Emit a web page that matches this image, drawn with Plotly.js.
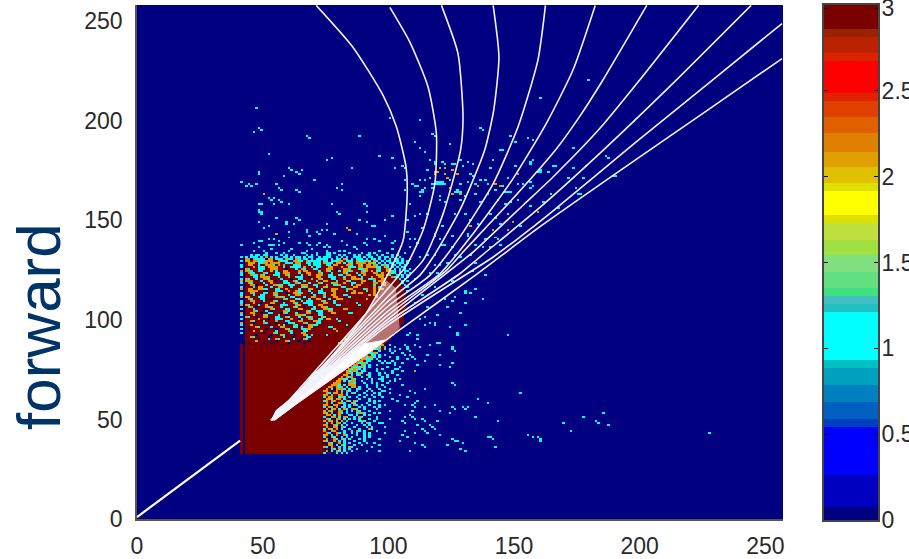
<!DOCTYPE html>
<html><head><meta charset="utf-8">
<script src="https://cdn.plot.ly/plotly-3.0.1.min.js"></script>
<style>html,body{margin:0;padding:0;background:#fff;overflow:hidden}</style>
</head><body><div id="chart" style="width:909px;height:559px"></div>
<script>
// ---------- tick labels ----------
const mainTicks=[0,50,100,150,200,250];
const barTicks=[0,0.5,1,1.5,2,2.5,2.98];
const barTickText=['0','0.5','1','1.5','2','2.5','3'];

// ---------- colour bands (bottom to top) ----------
const bandEdges=[0,.076,.263,.543,.59,.689,.788,.887,.934,1.214,1.261,1.307,1.354,1.447,1.541,1.634,1.728,1.774,1.914,1.961,2.054,2.142,2.253,2.346,2.44,2.486,2.673,2.72,2.813,2.86,3];
const bandColors=['#000080','#0000c0','#0000ff','#0040c0','#0060c0','#0080c0','#00a0c0','#00c0c0','#00ffff','#20c0c0','#40c0c0','#40e080','#60e080','#80e080','#a0e040','#c0e040','#e0e000','#ffff00','#e0e000','#e0c000','#e0a000','#e08000','#e06000','#e04000','#e02200','#ff0000','#dd2200','#bb2200','#992200','#7a0000'];

// ---------- cell values ----------
const valueCyan=1, valueOrange=2.1, valueMaroon=3;

// solid maroon block: [xStart,xEnd,yStart,yEnd]
const solidBlock=[43,73,33,87];
const leftStrip=[41,41,33,87];
// maroon under the white fan: [y,xStart,xEnd]
const fanRuns=[[88,82,98],[89,82,99],[90,83,100],[91,83,100],[92,84,101],[93,84,102],[94,85,103],[95,85,104],[96,86,104],[97,87,104],[98,87,105],[99,88,105],[100,89,105],[101,89,105],[102,90,105],[103,91,105],[104,92,105],[105,92,106],[106,93,106],[107,93,106],[108,94,106],[109,94,106],[110,95,106],[111,96,106],[112,97,106],[113,97,106],[114,98,105],[115,98,105],[116,99,105],[117,99,104],[118,100,104],[119,100,104],[120,100,103]];

// speckled region above the block: first row y=133, going down; first char x=41
const upperRows=[
"..........c...c..c......cc....c...cc.c.....c....c..c.c....c......c",
"....c.cc.cc.....c.c..c....c.c.c...cc...c.c...c.c..cc..c.c...c.c...",
"c.c.ccc.c.o.c.c..cc.c.cc.c.cc..c.ccc..c.c.c..ccc.c.cc..c.cc.c..c..",
"..oo.occcc.oo.ccc.occ.oc.cc.c.ccccc.c.cc.oc.c.ccc.c.cc.c.c.c.cc.c..c",
"c.oo#oocccooo##occc#.oocc#occccc#cc#cccoo#ccc#occcoc#oc.c.cc.cc.c.c",
"..#ooo#ccoo#oooo##ccc#oo##cc#ccc#occc#oo#c#oc#oooo#ooc#c.c.cc.c.c.c",
"c.#oo##c##oooc#o#o###ccc###c#ccc##cc#oo###ooc##oc#o##oc#coc.cc.c.c",
"c.###o#ccc#oooo##c##cccc#o##c#cc###oo###o##ccc#oo#oo#occ#oc.c.c.cc.",
"..oc###ccc##ooo###.###c#oc###cc###ooo#.##ooc###c#oo###oc##oc#c.c.c.c",
"o.ooc##cc###o#c##oo####o#oo####c##oc###c#ooc####ooo#o##o##oocc.c.cc",
"c.#occ###oc###cc#ooo###c##oo###oc###c####oc###c#oo###oo#o##occ.c.c.c",
"c.##occ#ocm##ccc##oc####c##o##ooo##cc#####oo###c#o####ooo#oc#.c.c.c",
"..###cc#oooo###c###o##ccc##.##oo###ccc###.##oo##c###o##oo###occ.c.c",
"c.oc##c##ooc####c###.##cc###o##oc###cc###o##oo##c###oo##oc##c#oc.c.",
"o.ooo###c##oo#.##cc##oc##c####c##oo###c###oc####oo###c#oo##oocc.c.c",
"c.#ocm###c##o####ccc##oc###c###oc###cc###o######o####c##oo##occ.c..",
"..##oo.###c##oocc##ccc##ooo##cc###o##ccc####c#oo#####c##ooo#c.cc.c.",
"c.###c#oo###c##oo###c###oco###c##oc#####cc###oo######o#c##ooc#c.c.c",
"o.#oo##oocc###cc##o####c##.oo###c###ooo###cc#####oo##o#oo#occ.c..",
"..#oooo###.###ccc##o##oc###c###cc###oo####c##o#######o###oc#c.c.c.c",
"c.##oc###cc##oo###.##ooco###c##ccc###o######oo#######o##ooc.c.c.c.",
"c.###c##cc###oc####c##oo####.c###o##oo#############o#oc#.c.c..",
"o.oo###ccc####ooco##cc###c##oo###c###oo###############oocc.c..c.",
"..#oc###cc##.####oc###cc###c##oo###c##oo##############occ.c.c.c.",
"c.##oo###c###oc#.###oo##c#ccc###oc###c###############oo.c.c.c.c.",
"c.###o##.###oo###c###oc##cccc####oo##c###############occ.c.c.c",
"o.oc###c##o#.###ccc###oo###cc##oo#####################oo.c.c..c..",
"..#oo#.###oco###c####oc##.###c##ooc##################oc.c.c.c...",
"c.###c###.##oc####cc###oo###cc###oocc###############occ.c.c.c..c.",
"..###oc###c#.####ooc###.##oc##ccc##oo##############oc.c.c..c.....",
"o.##oo##.##cc###.oc###c###oo###cc###oc#############ooc.c.c.c..c.c.",
"c.###o###oc####c##.###oooc##.##cc##################occ.c..c.c......",
"..oc##.##oo###cc##oc###c##oco###oc################oc.c.c.c...c.c...",
"c.#####o###.##ccc###o##.c##oc##cc################oo.c.c..c.c.......",
"..##oc###c####o###cc###oo####ooc#################occ.c.c.c...c..c...",
"o.###.###oc###.###.ccc###oc###cc################oc.c.c.c.c..........",
"c.##o######.###o#c###oc##.#oocc#################ooc.c.cc.c...c.c.....",
"..####oc####c###oo###cc#c##oc#################oc.c.c.c..c.c.........",
"c.#.######.###.###oc####ccoo##################occ.c.c..c..c..c.......",
"..###o##o#####c####oc###.cc##################ooc.c.c.c...c...........",
"c.#######.###oc#####c###oo##################oc.c.c..c.c..c..........",
"..####.#####.###oc###.###oc#c##############occ.c.c.c................",
"..##oc#####.#####c###.####cc##############oc.c..c.c..c..c...........",
"..#####.###c##oc#####c##.oc##############ooc.c.c..c................",
"..####o#######.###oc###.###.############occ.c.c.c..c..c............",
"..#.#####.##.######.#####.#############oo.cc.c.c...c...............",
];
// speckled region right of the block: first row y=87, going down; first char x=74
const lowerRows=[
"######################oo..c.....c...c",
"####################ooc#o...c....c...",
"###################occo#c.c...c..c...",
"##################oo#.c...c.c.....c..",
"#################occoc.....c...c.....",
"################oo#cc.c.c.......c.c..",
"################ocooc.c...c..c.......",
"###############ooccc.c.......c...c...",
"##############oo#cc...c.c..c.........",
"#############occoc.....c.c..c..c.....",
"############oo#oc.c..c......c........",
"###########occcoc.c......c....c......",
"##########ocooc.c....c.c....c........",
"#########ocooc.cc#...c.....c...c.....",
"#########ooc.coc..c...c.c............",
"########oo#c.cc..oc...c..c...c.......",
"#######o#oco#..c..c....c.c...........",
"######oocc.oc....c.c..c.....c........",
"#####oo#c.coo..c...c...c..c..........",
"####ooo.#.ooc...c..c.c...c...........",
"###oooc#c.ooo....c...c.c.............",
"##oo#oco#c.oo#c..c...c..c............",
"#o#c.oooc.c..cc...c...c...c..........",
"oo#.#o#c.oc..c...c.c...c.............",
"#oc#oo#o.c.oc...c...c.c..............",
"oo#c##oo#c....c..c.c..c..............",
"c#oo#.coc.c..c..c...c..c.............",
"#ooc#oo#c#....c...c..................",
"co#oo##c.oc.oc....c.c.c..............",
"#o#c.#ooc..ocd...c..c................",
"oo#.oo#.c.c.oc.c..c...c..............",
"c#oc#o.oc.c...c.c...c................",
"#o.oo#c#oc.ooc..c....c...............",
"o#oc#.oo.c.c.oc...c..................",
"oc#o.#oc.c...cooc...c.c..............",
"#oo#c#o#..cc.c..c.c..................",
"c#.oo#c.oo..c.oc.#...c...............",
"#oc#.oo.c.c.c.c...c..c...............",
"o#oo#c.o#c....coc...c................",
"#c#o.oo.c..c...c.oc...c..............",
"oo.#oc#c.c...c..c.c..................",
"#o#.oo.oc...c....c.c.................",
"c#oc#o.c..c...c...oc.................",
"o#.oo#..c..c.oc.c..#.................",
"#oc.#oc.c..c.c..c.c..................",
"oo#c.o#.oc...c..c.c..................",
"c#.oc#.c.c.c....c.c..................",
"#o.#oc.oc.c...c.c....................",
"oc#.o#c.c...c...c....................",
".#oc.#o.c.c...c..c...................",
"#.oo.c.oc...c..c.....................",
"oc.o#.c.c.oc.........................",
".#.oc.o.c.c..c.......................",
"#o.c.oc.c..c.........................",
"c.#..c.c.c...........................",
];

// isolated cells, [x,y]
const sparseCyan=[
[47,206],[48,196],[49,195],[46,194],[67,192],[68,191],[88,192],[100,201],[112,200],[52,183],[110,189],[117,193],[118,192],[124,188],[112,186],[114,184],[96,182],[101,181],[75,180],[77,181],[85,176],[102,176],[105,177],[106,176],[60,176],[61,175],[63,174],[64,173],[65,175],[58,172],[48,173],[48,174],[70,170],[41,169],[44,168],[43,167],[45,167],[47,168],[55,168],[56,166],[57,165],[63,165],[64,164],[79,166],[81,168],[81,165],[52,161],[53,160],[54,161],[56,160],[57,159],[54,158],[60,158],[48,158],[49,158],[48,154],[48,155],[49,153],[49,154],[77,158],[90,158],[91,157],[91,154],[79,154],[80,153],[55,151],[63,151],[64,150],[48,149],[59,148],[59,149],[52,147],[50,146],[62,148],[75,148],[88,150],[91,149],[93,147],[94,147],[98,150],[101,152],[108,158],[106,165],[106,170],[112,153],
[67,144],[67,145],[68,142],[71,144],[72,143],[73,145],[75,145],[78,143],[87,143],[60,144],[60,141],[58,138],[56,139],[54,140],[52,140],[48,139],[49,139],[46,138],[41,137],[48,136],[52,137],[53,137],[54,137],[56,137],[64,138],[67,138],[68,137],[71,137],[72,138],[75,137],[76,136],[81,139],[83,137],[86,136],[87,135],[90,138],[91,137],[91,140],[94,140],[96,139],[98,142],[101,138],[102,139],[101,135],[96,134],[80,134],[82,134],[74,136],[69,135],[61,135],[60,134],[46,134],[50,134],[53,135],[67,134],[75,134],[107,144],[108,140],
[116,180],[118,179],[121,179],[122,178],[115,175],[112,170],[114,170],[116,171],[118,168],[119,168],[120,168],[121,168],[122,168],[119,169],[120,169],[124,170],[109,168],[110,167],[113,165],[112,162],[117,166],[133,172],[144,185],[145,185],[148,192],[150,189],[155,191],[157,190],[173,186],[186,182],[187,181],[179,220],[160,211],[136,196],[137,195],[157,180],[165,177],[159,174],[160,174],[150,177],[156,179],[173,176],[178,177],[171,171],[177,171],[189,172],[190,172],[174,166],[176,163],[164,163],[157,167],[151,168],[147,164],[139,168],[136,170],[140,176],[141,180],[129,177],[128,180],[131,179],[133,178],[125,178],[131,169],[128,168],[127,164],[130,162],[113,164],[111,167],[120,162],
[118,178],[118,173],[122,176],[126,178],[132,173],[127,173],[123,171],[117,168],[121,169],[112,164],[114,166],[124,166],[127,165],[128,164],[126,164],[134,168],[138,170],[142,168],[145,167],[147,171],[151,173],[160,175],[156,178],[166,177],[163,174],[156,169],[153,168],[156,166],[148,164],[146,164],[142,165],[139,163],[134,163],[120,160],[122,159],[128,160],[136,159],[143,160],[151,160],[148,159],[146,158],[156,157],[161,159],[167,156],[175,163],[126,153],[130,153],[132,150],[135,148],[140,153],[142,151],[147,153],[152,147],[144,148],[121,147],[125,142],[131,142],[142,141],[143,140],[110,140],[111,138],[118,143],[120,140],[122,137],[134,137],[138,140],[140,136],[144,137],[134,128],[126,132],[118,132],[132,132],[118,127],[119,123],[138,122],[134,115],[132,113],[130,114],[126,111],[125,109],[130,108],[137,110],[123,106],[119,102],[114,101],[116,98],[118,98],[130,97],[124,96],[127,93],[147,92],[114,97],[111,92],[108,93],
[107,150],[110,152],[115,153],[113,146],[118,142],[125,136],[131,143],[137,136],[112,131],[120,127],[128,131],[133,124],[125,119],[118,116],[130,113],[110,120],[115,106],[122,110],[128,103],[112,100],[118,97],[125,86],[124,76],[120,82],[115,82],[119,88],[112,86],[108,84],[111,90],[107,92],[116,98],[110,108],[106,112],[113,112],[108,125],[104,128],[116,123],[123,128],[108,136],[115,132],[121,137],
[127,92],[120,88],[116,87],[125,85],[126,84],[109,81],[110,80],[114,79],[125,78],[120,77],[111,77],[125,68],[126,67],[114,65],[152,63],[135,60],[139,58],[118,57],[129,56],[131,56],[130,55],[125,56],[126,55],[120,54],[124,53],[134,51],[143,49],[119,49],[169,48],[177,51],[185,53],[182,49],[183,48],[187,47],[172,44],[227,43],[155,42],[157,41],[159,41],[160,40],[160,39],[140,41],[139,41],[141,40],[142,36],[125,40],[126,39],[127,39],[129,38],[123,37],[128,35],[130,34],[120,42],[118,45],[116,47],[117,46],[114,49],[113,50],[110,50],[111,47],[113,45],[114,44],[115,43],[110,43],[105,42],[107,41],[104,39],[110,38],[113,37],[114,36],[108,34],[106,44],[106,48],[105,49],[106,51],[108,52],[109,51],[109,54],[110,56],[114,56],[111,59],[110,58],[109,57],[107,61],[106,57],[103,59],[104,62],[108,64],[110,63],
[98,79],[100,78],[102,75],[103,75],[98,73],[101,73],[102,69],[97,70],[104,70],[105,67],[98,64],[100,63],[101,60],[96,62],[98,57],[96,56],[100,54],[100,50],[97,48],[98,46],[95,44],[98,43],[96,40],[94,38],[96,37],[93,36],[96,34],[91,34],
[80,122],[81,122],[82,121],[85,118],[86,118],[88,125],[89,125],[90,124],[92,120],[93,120],[82,112],[83,112],[84,111],[78,108],[79,107],[80,107],[84,103],[85,103],[79,100],[80,99],[76,96],[77,96],[75,92],[90,115],[91,114],[95,124],[96,124],[87,108],[88,107],[83,97]
];
const sparseOrange=[[50,163],[55,143],[83,146],[84,145],[118,173],[119,174],[120,176],[122,176],[122,173],[123,171],[125,175],[127,173],[124,166],[125,163],[118,174],[151,173],[142,168],[144,167],[135,167],[110,74],[141,145],[147,145],[149,149],[159,154],[132,147],[128,163],
[78,118],[79,118],[80,117],[83,125],[84,125],[85,124],[87,120],[88,120],[89,119],[91,127],[92,127],[93,126],[82,105],[83,105],[84,115],[85,115],[86,114],[76,104],[77,104],[78,103],[80,110],[81,110],[94,118],[95,118],[96,122],[88,113],[89,113],[91,110],[78,95],[79,94],[75,100],[76,100]];

// white curves, top of the plot down to where they meet
const curve1X=[71.3,85.9,97.8,103.2,107,107.5,105.9,101.3,91,74,53.4];
const curve1Y=[258,237,213,197,177,163.4,140,126.6,103,76,49.5];
const curve2X=[100.6,108.5,115.8,119.1,118.5,113.8,107.2,100,53.4];
const curve2Y=[257,239.7,217,193.6,168.5,145,127.4,116,49.5];
const curve3X=[121.1,127.7,129.7,128.7,121.8,113.8,100,53.4];
const curve3Y=[258,233.8,202,185.2,153.4,129.9,112,49.5];
const curve4X=[141.7,144,141.9,138.3,128.4,117.8,112.5,100,53.4];
const curve4Y=[258,232,205.3,185.2,155,131.6,122.4,109.5,49.5];
const curve5X=[162.5,159.5,151.6,141.7,128.4,116.5,100,53.4];
const curve5Y=[258,230.5,197,168.5,141.6,122.4,107,49.5];
const curve6X=[182.3,173.4,162.8,149.6,133.7,120.5,100,53.4];
const curve6Y=[258,225.4,198.6,171,143.3,123.2,104.5,49.5];
const curve7X=[202.8,185.3,176,166.4,148.3,139,129.7,123.1,100,53.4];
const curve7Y=[258,220.4,202,185.2,159.2,146.7,134.1,124.9,102.5,49.5];
const curve8X=[223.4,199.9,184,165.5,153.6,143,133.7,100,53.4];
const curve8Y=[258,220.4,196,171.8,157.6,145,134.1,100.5,49.5];
const curve9X=[244.3,213.1,185.4,158.9,136.4,128.4,100,53.4];
const curve9Y=[258,218.7,185.2,155,131.6,123.2,99,49.5];
const curve10X=[256.6,230.4,198.6,164.2,152.3,141.7,100,53.4];
const curve10Y=[248.9,222,189.4,153.4,141.6,131.6,97.5,49.5];
const curve11X=[256.6,225,193.3,160.2,133.7,104.5,99.2,87.9,70.7,53.4];
const curve11Y=[231.3,203.6,176,146.7,121.6,95,90,80,65,49.5];
const diagonalX=[0,41];
const diagonalY=[1,39.4];
const wedgeX=[53.4,55.4,62,67.3,67.6,70.7,77.3,84,90.6,99.2,87.9,78.6,70.7,63.3,54.7];
const wedgeY=[49.5,54.6,61.3,66.3,68.8,73.8,77.1,83,88,90,79.6,71.3,64.6,57.6,49.5];
const moireX=[70.7,74,82,91,99,103,104.5,99.2,90.6,84,77.3];
const moireY=[73.8,76,90,103,120,116,96,90,88,83,77.1];

// ---------- build the grid ----------
const N=258;
const z=[];
for(let r=0;r<N;r++){z.push(new Array(N).fill(0));}
function fill(b,v){for(let y=b[2];y<=b[3];y++)for(let x=b[0];x<=b[1];x++)z[y][x]=v;}
fill(solidBlock,valueMaroon);
fill(leftStrip,valueMaroon);
const code={'c':valueCyan,'o':valueOrange,'#':valueMaroon,'m':valueMaroon};
function paint(rows,topY,leftX){
  rows.forEach((s,i)=>{for(let k=0;k<s.length;k++){const v=code[s[k]];if(v)z[topY-i][leftX+k]=v;}});
}
paint(upperRows,133,41);
paint(lowerRows,87,74);
fanRuns.forEach(r=>{for(let x=r[1];x<=r[2];x++)z[r[0]][x]=valueMaroon;});
sparseCyan.forEach(p=>{if(!(p[0]>=103&&p[1]>=96&&p[1]<=120&&p[0]<=106))z[p[1]][p[0]]=valueCyan;});
sparseOrange.forEach(p=>{z[p[1]][p[0]]=valueOrange;});

// colorscale with hard steps
const colorscale=[];
bandColors.forEach((c,i)=>{colorscale.push([bandEdges[i]/3,c]);colorscale.push([bandEdges[i+1]/3,c]);});
const bandMid=bandColors.map((c,i)=>[(bandEdges[i]+bandEdges[i+1])/2]);

const curveList=[[curve1X,curve1Y],[curve2X,curve2Y],[curve3X,curve3Y],[curve4X,curve4Y],[curve5X,curve5Y],[curve6X,curve6Y],[curve7X,curve7Y],[curve8X,curve8Y],[curve9X,curve9Y],[curve10X,curve10Y],[curve11X,curve11Y]];

const traces=[
 {type:'heatmap',z:z,x0:0.5,dx:1,y0:0.5,dy:1,zmin:0,zmax:3,colorscale:colorscale,showscale:false,hoverinfo:'skip'},
 {type:'scatter',mode:'lines',x:diagonalX,y:diagonalY,line:{color:'#ffffff',width:2.2},hoverinfo:'skip'},
 {type:'scatter',mode:'lines',x:moireX,y:moireY,fill:'toself',fillcolor:'rgba(255,255,255,0.45)',line:{width:0},hoverinfo:'skip'},
 {type:'scatter',mode:'lines',x:wedgeX,y:wedgeY,fill:'toself',fillcolor:'#ffffff',line:{color:'#ffffff',width:1},hoverinfo:'skip'}
];
curveList.forEach(c=>traces.push({type:'scatter',mode:'lines',x:c[0],y:c[1],line:{color:'#f2f2fb',width:1.6,shape:'spline',smoothing:0.6},hoverinfo:'skip'}));
traces.push({type:'heatmap',xaxis:'x2',yaxis:'y2',x:[0,1],y:bandEdges,z:bandMid,zmin:0,zmax:3,colorscale:colorscale,showscale:false,hoverinfo:'skip'});

const W=909,H=559;
const tickFont={family:'"Liberation Sans",Arial,sans-serif',size:23,color:'#2a2a2a'};
const layout={
 width:W,height:H,margin:{l:0,r:0,t:0,b:0},paper_bgcolor:'#ffffff',plot_bgcolor:'#000080',showlegend:false,
 xaxis:{domain:[137/W,783/W],range:[0,257],tickvals:mainTicks,ticktext:mainTicks.map(String),ticks:'outside',ticklen:6,tickcolor:'rgba(0,0,0,0)',tickfont:tickFont,showgrid:false,zeroline:false,showline:true,linecolor:'#555555',linewidth:1.5},
 yaxis:{domain:[(H-519)/H,(H-5)/H],range:[0,258.2],tickvals:mainTicks,ticktext:mainTicks.map(String),ticks:'outside',ticklen:8,tickcolor:'rgba(0,0,0,0)',tickfont:tickFont,showgrid:false,zeroline:false,showline:true,linecolor:'#555555',linewidth:1.5},
 xaxis2:{domain:[824/W,878/W],range:[0,1],anchor:'y2',showticklabels:false,ticks:'',showgrid:false,zeroline:false,showline:true,mirror:true,linecolor:'#444444',linewidth:2},
 yaxis2:{domain:[(H-520)/H,(H-5)/H],range:[0,3],anchor:'x2',side:'right',tickvals:barTicks,ticktext:barTickText,ticks:'inside',ticklen:4,tickcolor:'#000000',tickfont:tickFont,ticklabelstandoff:-3,ticklabeloverflow:'allow',mirror:'ticks',showgrid:false,zeroline:false,showline:true,linecolor:'#444444',linewidth:2},
 annotations:[{text:'forward',xref:'paper',yref:'paper',x:39/W,y:(H-327)/H,xanchor:'center',yanchor:'middle',textangle:-90,showarrow:false,font:{family:'"Liberation Sans",Arial,sans-serif',size:62,color:'#003366'}}]
};
Plotly.newPlot('chart',traces,layout,{displayModeBar:false,responsive:false});
</script></body></html>
